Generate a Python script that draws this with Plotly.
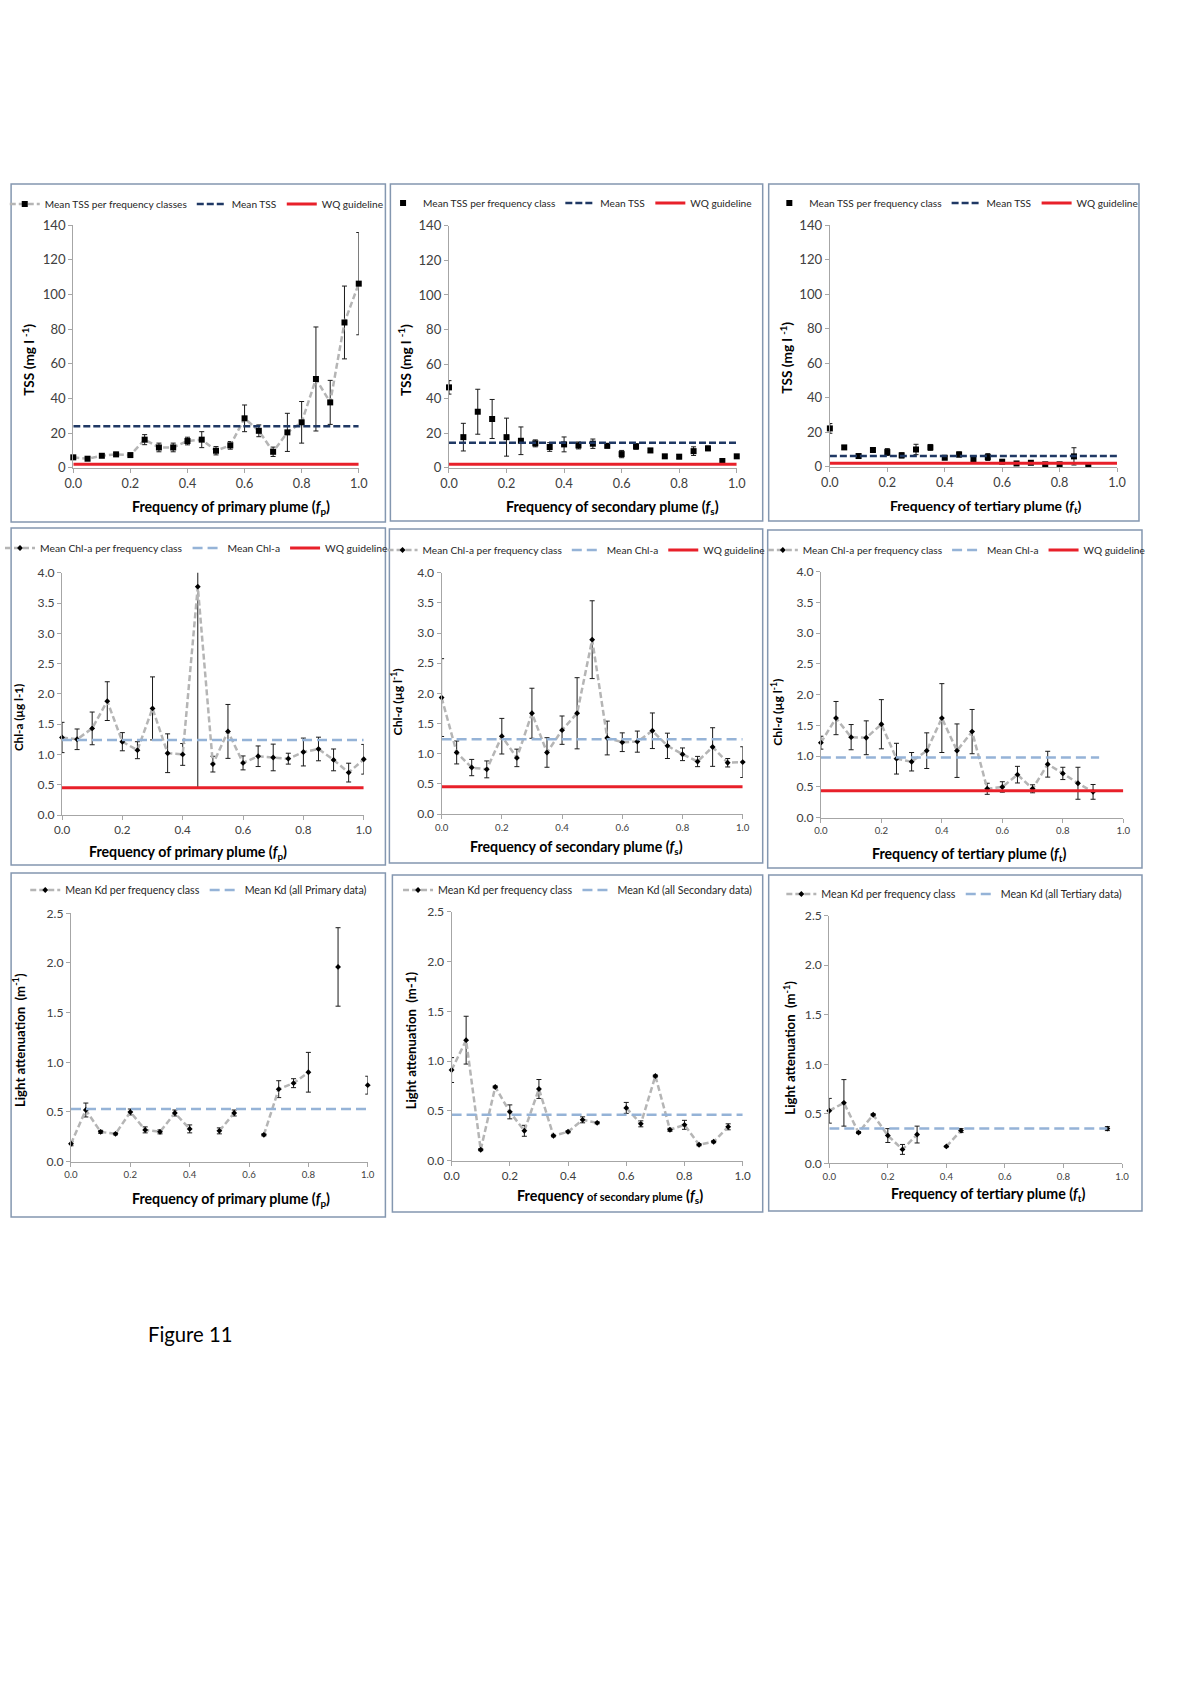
import plotly.graph_objects as go

W, H = 1200, 1698
# the photographed page shows up slightly shrunk and shifted; map reference
# pixel positions onto page pixels so the picture lines up with the reference
SX, SY, SHIFT = 1216 / 1200, 1714 / 1698, 8

# ---------------- DATA ----------------
freq_full = [0.0, 0.05, 0.1, 0.15, 0.2, 0.25, 0.3, 0.35, 0.4, 0.45, 0.5,
             0.55, 0.6, 0.65, 0.7, 0.75, 0.8, 0.85, 0.9, 0.95, 1.0]
freq_to_090 = [0.0, 0.05, 0.1, 0.15, 0.2, 0.25, 0.3, 0.35, 0.4, 0.45, 0.5,
               0.55, 0.6, 0.65, 0.7, 0.75, 0.8, 0.85, 0.9]
freq_to_095 = [0.0, 0.05, 0.1, 0.15, 0.2, 0.25, 0.3, 0.35, 0.4, 0.45, 0.5,
               0.55, 0.6, 0.65, 0.7, 0.75, 0.8, 0.85, 0.9, 0.95]

# TSS (mg l-1)
tss_primary = [6.0, 5.2, 6.9, 7.7, 7.3, 16.2, 11.7, 11.7, 15.4, 16.2, 9.8,
               12.9, 28.5, 21.3, 9.2, 20.4, 26.2, 51.2, 37.7, 83.8, 106.2]
tss_primary_err = [0.8, 0.8, 0.9, 1.2, 0.8, 2.9, 2.5, 2.5, 2.2, 4.6, 2.4,
                   2.2, 7.7, 3.4, 2.7, 11.0, 12.0, 30.0, 12.7, 21.0, 29.5]
tss_secondary = [46.5, 17.7, 32.4, 28.2, 17.7, 15.6, 14.1, 12.0, 13.5, 12.9, 13.9,
                 12.7, 7.9, 12.3, 10.0, 6.6, 6.4, 9.6, 11.2, 3.9, 6.6]
tss_secondary_err = [3.9, 8.0, 13.0, 11.3, 11.0, 8.0, 2.0, 2.5, 4.3, 2.0, 2.7,
                     1.3, 2.1, 1.6, 1.2, 0.8, 1.2, 2.5, 1.3, 0.5, 0.5]
tss_tertiary = [22.2, 11.2, 6.2, 9.7, 8.5, 6.6, 10.0, 11.2, 5.2, 7.1, 4.4,
                5.6, 2.9, 1.9, 2.3, 1.4, 1.4, 6.0, 1.0]
tss_tertiary_err = [2.8, 1.0, 0.8, 1.0, 2.0, 1.5, 3.0, 1.7, 0.7, 1.5, 1.0,
                    2.0, 0.5, 0.3, 0.5, 0.3, 0.3, 5.0, 0.2]
tss_means = [24.0, 14.5, 6.2]
tss_wq = 2.0

# Chl-a (ug l-1)
chl_primary = [1.28, 1.25, 1.43, 1.88, 1.21, 1.07, 1.76, 1.02, 1.00, 3.77, 0.84,
               1.38, 0.86, 0.97, 0.95, 0.93, 1.04, 1.09, 0.91, 0.70, 0.92]
chl_primary_err = [0.25, 0.17, 0.27, 0.32, 0.15, 0.14, 0.52, 0.32, 0.18, 3.32, 0.13,
                   0.445, 0.115, 0.17, 0.22, 0.09, 0.23, 0.195, 0.18, 0.155, 0.245]
chl_secondary = [1.93, 1.02, 0.77, 0.74, 1.29, 0.93, 1.67, 1.02, 1.39, 1.67, 2.89,
                 1.26, 1.19, 1.20, 1.38, 1.13, 0.99, 0.87, 1.11, 0.85, 0.86]
chl_secondary_err = [0.645, 0.19, 0.135, 0.14, 0.295, 0.145, 0.415, 0.245, 0.235, 0.59, 0.645,
                     0.28, 0.155, 0.175, 0.295, 0.21, 0.105, 0.085, 0.32, 0.07, 0.255]
chl_tertiary = [1.22, 1.62, 1.31, 1.30, 1.52, 0.96, 0.91, 1.09, 1.62, 1.09, 1.40,
                0.47, 0.50, 0.70, 0.47, 0.87, 0.72, 0.56, 0.42]
chl_tertiary_err = [0.105, 0.27, 0.205, 0.275, 0.40, 0.25, 0.15, 0.29, 0.56, 0.435, 0.36,
                    0.09, 0.085, 0.135, 0.065, 0.21, 0.10, 0.26, 0.12]
chl_means = [1.24, 1.24, 0.98]
chl_mean_xend = [1.0, 1.0, 0.92]
chl_wq = [0.45, 0.45, 0.44]

# Kd light attenuation (m-1)
kd_primary = [0.18, 0.52, 0.30, 0.28, 0.50, 0.32, 0.30, 0.49, 0.33, None, 0.31,
              0.49, None, 0.27, 0.73, 0.79, 0.90, None, 1.96, None, 0.77]
kd_primary_err = [0.02, 0.07, 0.015, 0.01, 0.03, 0.03, 0.02, 0.03, 0.04, 0, 0.03,
                  0.03, 0, 0.01, 0.085, 0.045, 0.20, 0, 0.395, 0, 0.09]
kd_secondary = [0.91, 1.21, 0.11, 0.74, 0.49, 0.30, 0.72, 0.25, 0.29, 0.41, 0.38,
                None, 0.53, 0.37, 0.85, 0.31, 0.36, 0.16, 0.19, 0.34]
kd_secondary_err = [0.125, 0.24, 0.01, 0.01, 0.07, 0.055, 0.095, 0.01, 0.01, 0.03, 0.01,
                    0, 0.055, 0.03, 0.01, 0.015, 0.045, 0.01, 0.01, 0.03]
kd_tertiary = [0.53, 0.61, 0.31, 0.49, 0.28, 0.14, 0.29, None, 0.17, 0.33, None,
               None, None, None, None, None, None, None, None, 0.35]
kd_tertiary_err = [0.125, 0.235, 0.01, 0.01, 0.07, 0.05, 0.085, 0, 0.005, 0.02, 0,
                   0, 0, 0, 0, 0, 0, 0, 0, 0.02]
kd_means = [0.53, 0.46, 0.35]
kd_mean_xend = [1.0, 1.0, 0.95]

x_tick_vals = [0.0, 0.2, 0.4, 0.6, 0.8, 1.0]

# ---------------- STYLE / LAYOUT ----------------
FONT = "Lato"
GRAY_LINE = "#b5b5b5"
NAVY = "#1f3864"
LIGHTBLUE = "#95b3d7"
RED = "#e8202a"
AXIS = "#a6a6a6"
TICKC = "#404040"
BORDER = "#8497b0"

def px2x(rx):
    return (rx * SX - SHIFT) / W

def px2y(ry):
    return 1 - (ry * SY - SHIFT) / H

def fs(size):
    return round(size * SX, 2)

# plot-area reference-pixel boxes: (left, right, top, bottom)
plot_boxes = [
    (72.3, 358.3, 225.0, 467.7), (448.7, 737.0, 225.7, 467.7), (830.3, 1118.0, 225.0, 466.7),
    (61.0, 363.3, 572.7, 815.0), (441.3, 743.0, 572.7, 814.0), (821.3, 1124.3, 571.7, 817.7),
    (70.0, 367.3, 913.3, 1161.7), (451.3, 743.0, 911.7, 1160.7), (829.7, 1123.0, 915.7, 1163.3),
]
border_boxes = [
    (10, 385, 184, 522), (390, 763, 184, 521), (769, 1140, 184, 521),
    (10, 385, 528, 865), (389, 763, 529, 863), (768, 1143, 530, 868),
    (10, 385, 873, 1217), (392, 763, 875, 1212), (769, 1143, 875, 1211),
]
legend_pos = [(196, 204), (570, 203), (957, 203),
              (196, 548), (576, 550), (957, 550),
              (198, 890), (578, 890), (955, 894)]
legend_sizes = [10, 10, 10, 10.2, 10, 10, 10.5, 10.5, 10.5]
xtitle_pos = [(230, 507), (613, 507), (987, 506),
              (187, 853), (576, 847), (970, 855),
              (230, 1200), (610, 1197), (989, 1195)]
ytitle_pos = [(27.7, 360), (404.7, 360), (787, 358),
              (17, 718), (397, 702), (777, 712),
              (18, 1040), (411, 1040), (790, 1048)]

prim = "Frequency of primary plume (<i>f</i><sub>p</sub>)"
sec = "Frequency of secondary plume (<i>f</i><sub>s</sub>)"
ter = "Frequency of tertiary plume (<i>f</i><sub>t</sub>)"
sec_small = ("Frequency <span style='font-size:11px'>of secondary plume</span> "
             "(<i>f</i><sub>s</sub>)")
xtitles = [prim, sec, ter, prim, sec, ter, prim, sec_small, ter]
xtitle_sizes = [14, 14, 13.8, 14, 14, 14, 14, 14.2, 14]
tss_yt = "TSS (mg l <sup>-1</sup>)"
ytitles = [tss_yt, tss_yt, tss_yt,
           "Chl-a (µg l-1)", "Chl-<i>a</i> (µg l<sup>-1</sup>)", "Chl-<i>a</i> (µg l<sup>-1</sup>)",
           "Light attenuation  (m<sup>-1</sup>)", "Light attenuation  (m-1)",
           "Light attenuation  (m<sup>-1</sup>)"]
ytitle_sizes = [13.5, 13.5, 13.5, 11.5, 12, 12, 13, 13, 13]
xtick_sizes = [12.5, 12.5, 12.5, 11.5, 9.5, 9.5, 9.5, 11.5, 9.5]
ytick_sizes = [13, 13, 13, 12, 12, 12, 12, 12, 12]

fig = go.Figure()
layout = dict(width=W, height=H, paper_bgcolor="white", plot_bgcolor="white",
              margin=dict(l=0, r=0, t=0, b=0), showlegend=True,
              font=dict(family=FONT, color="#262626"))
annotations = []
shapes = []

def add_series(i, x, y, err, name, with_line, marker_symbol, marker_size):
    xa = "x" if i == 0 else f"x{i+1}"
    ya = "y" if i == 0 else f"y{i+1}"
    lg = "legend" if i == 0 else f"legend{i+1}"
    # error bars (clipped to plot area)
    fig.add_trace(go.Scatter(
        x=x, y=y, xaxis=xa, yaxis=ya, mode="markers",
        marker=dict(size=1, color="rgba(0,0,0,0)"),
        error_y=dict(type="data", array=err, visible=True, color="#1a1a1a",
                     thickness=1, width=2.5),
        cliponaxis=True, showlegend=False, hoverinfo="skip"))
    fig.add_trace(go.Scatter(
        x=x, y=y, xaxis=xa, yaxis=ya, name=name,
        mode="lines+markers" if with_line else "markers",
        line=dict(color=GRAY_LINE, width=2.5, dash="6px,3px"),
        marker=dict(symbol=marker_symbol, size=marker_size, color="#000000"),
        connectgaps=False, cliponaxis=False, legend=lg))

def add_hline(i, xend, val, name, color, dash, width):
    xa = "x" if i == 0 else f"x{i+1}"
    ya = "y" if i == 0 else f"y{i+1}"
    lg = "legend" if i == 0 else f"legend{i+1}"
    fig.add_trace(go.Scatter(
        x=[0.0, xend], y=[val, val], xaxis=xa, yaxis=ya, name=name, mode="lines",
        line=dict(color=color, width=width, dash=dash), legend=lg, hoverinfo="skip"))

series = [
    (freq_full, tss_primary, tss_primary_err, "Mean TSS per frequency classes", True),
    (freq_full, tss_secondary, tss_secondary_err, "Mean TSS per frequency class", False),
    (freq_to_090, tss_tertiary, tss_tertiary_err, "Mean TSS per frequency class", False),
    (freq_full, chl_primary, chl_primary_err, "Mean Chl-a per frequency class", True),
    (freq_full, chl_secondary, chl_secondary_err, "Mean Chl-a per frequency class", True),
    (freq_to_090, chl_tertiary, chl_tertiary_err, "Mean Chl-a per frequency class", True),
    (freq_full, kd_primary, kd_primary_err, "Mean Kd per frequency class", True),
    (freq_to_095, kd_secondary, kd_secondary_err, "Mean Kd per frequency class", True),
    (freq_to_095, kd_tertiary, kd_tertiary_err, "Mean Kd per frequency class", True),
]
kd_names = ["Mean Kd (all Primary data)", "Mean Kd (all Secondary data)",
            "Mean Kd (all Tertiary data)"]

for i, (x, y, err, name, with_line) in enumerate(series):
    row = i // 3
    col = i % 3
    if row == 0:
        add_series(i, x, y, err, name, with_line, "square", 6)
        add_hline(i, 1.0, tss_means[col], "Mean TSS", NAVY, "7px,3px", 2.5)
        add_hline(i, 1.0, tss_wq, "WQ guideline", RED, "solid", 3)
    elif row == 1:
        add_series(i, x, y, err, name, with_line, "diamond", 4.5)
        add_hline(i, chl_mean_xend[col], chl_means[col], "Mean Chl-a", LIGHTBLUE, "10px,5px", 2.5)
        add_hline(i, 1.0, chl_wq[col], "WQ guideline", RED, "solid", 3)
    else:
        add_series(i, x, y, err, name, with_line, "diamond", 4.5)
        add_hline(i, kd_mean_xend[col], kd_means[col], kd_names[col], LIGHTBLUE, "10px,5px", 2.5)

yranges = [[0, 140]] * 3 + [[0, 4.0]] * 3 + [[0, 2.5]] * 3
ydticks = [20] * 3 + [0.5] * 3 + [0.5] * 3
yformats = ["d"] * 3 + [".1f"] * 6

for i in range(9):
    l, r, t, b = plot_boxes[i]
    xk = "xaxis" if i == 0 else f"xaxis{i+1}"
    yk = "yaxis" if i == 0 else f"yaxis{i+1}"
    xa = "x" if i == 0 else f"x{i+1}"
    ya = "y" if i == 0 else f"y{i+1}"
    layout[xk] = dict(domain=[px2x(l), px2x(r)], anchor=ya, range=[0, 1],
                      tickvals=x_tick_vals, tickformat=".1f", showgrid=False,
                      zeroline=False, showline=True, linecolor=AXIS, linewidth=1,
                      ticks="outside", ticklen=4, tickcolor=AXIS,
                      tickfont=dict(size=fs(xtick_sizes[i]), color=TICKC, family=FONT))
    layout[yk] = dict(domain=[px2y(b), px2y(t)], anchor=xa, range=yranges[i],
                      dtick=ydticks[i], tick0=0, tickformat=yformats[i], showgrid=False,
                      zeroline=False, showline=True, linecolor=AXIS, linewidth=1,
                      ticks="outside", ticklen=4, tickcolor=AXIS,
                      tickfont=dict(size=fs(ytick_sizes[i]), color=TICKC, family=FONT))
    lk = "legend" if i == 0 else f"legend{i+1}"
    lx, ly = legend_pos[i]
    layout[lk] = dict(x=px2x(lx), y=px2y(ly), xanchor="center", yanchor="middle",
                      orientation="h", bgcolor="rgba(0,0,0,0)", borderwidth=0,
                      font=dict(size=fs(legend_sizes[i]), family=FONT, color="#262626"),
                      itemwidth=30, tracegroupgap=0)
    bl, br, bt, bb = border_boxes[i]
    shapes.append(dict(type="rect", xref="paper", yref="paper",
                       x0=px2x(bl), x1=px2x(br), y0=px2y(bb), y1=px2y(bt),
                       line=dict(color=BORDER, width=1.5), fillcolor="rgba(0,0,0,0)"))
    tx, ty = xtitle_pos[i]
    annotations.append(dict(x=px2x(tx), y=px2y(ty), xref="paper", yref="paper",
                            text="<b>" + xtitles[i] + "</b>", showarrow=False,
                            xanchor="center", yanchor="middle",
                            font=dict(size=fs(xtitle_sizes[i]), family=FONT, color="#000000")))
    yx, yy = ytitle_pos[i]
    annotations.append(dict(x=px2x(yx), y=px2y(yy), xref="paper", yref="paper",
                            text="<b>" + ytitles[i] + "</b>", showarrow=False,
                            textangle=-90, xanchor="center", yanchor="middle",
                            font=dict(size=fs(ytitle_sizes[i]), family=FONT, color="#000000")))

annotations.append(dict(x=px2x(145), y=px2y(1334), xref="paper", yref="paper",
                        text="Figure 11", showarrow=False, xanchor="left", yanchor="middle",
                        font=dict(size=fs(20), family=FONT, color="#000000")))

layout["annotations"] = annotations
layout["shapes"] = shapes
fig.update_layout(**layout)
fig.write_html("out.html", config={"displayModeBar": False},
               post_script="document.body.style.margin='0';")
